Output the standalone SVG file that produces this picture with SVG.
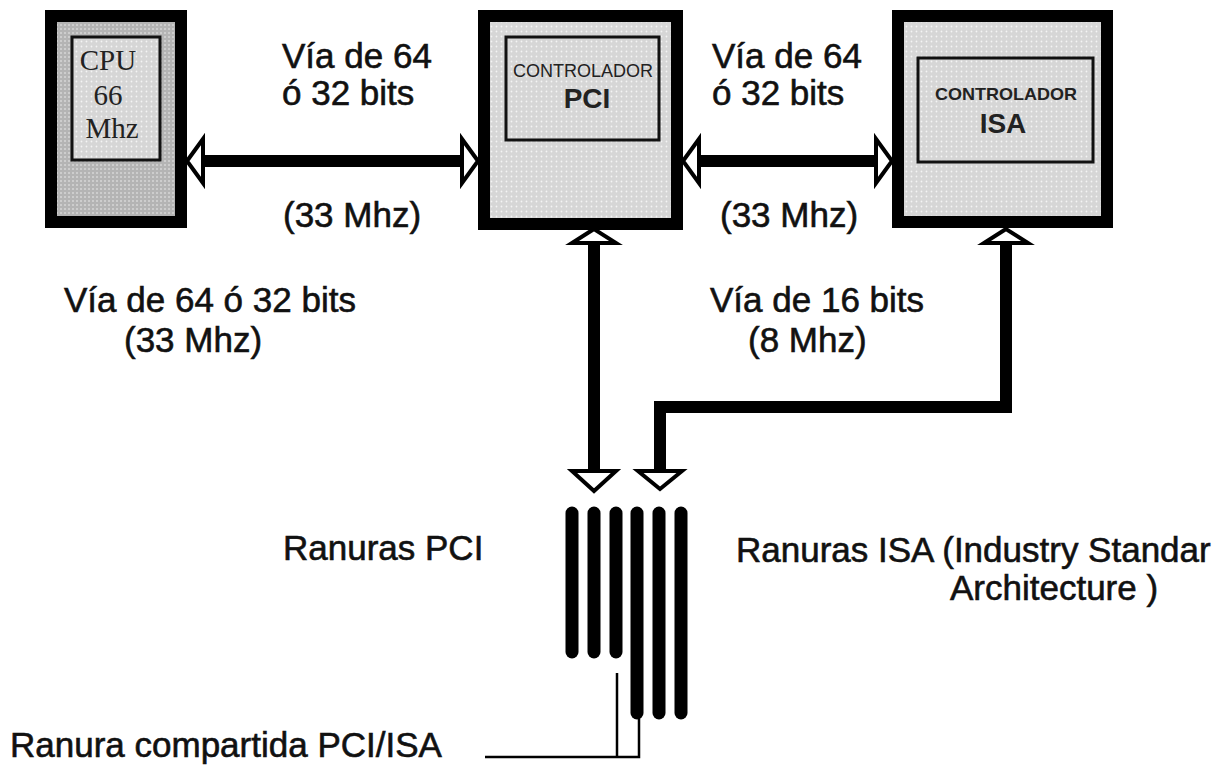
<svg xmlns="http://www.w3.org/2000/svg" width="1228" height="776" viewBox="0 0 1228 776">
<style>
.lbl{font-family:"Liberation Sans",Arial,sans-serif;font-size:35px;fill:#111;stroke:#111;stroke-width:0.6}
.cpu{font-family:"Liberation Serif","Times New Roman",serif;font-size:29px;fill:#222;text-anchor:middle}
.ctl{font-family:"Liberation Sans",Arial,sans-serif;fill:#222;text-anchor:middle}
.outer{stroke:#000;stroke-width:12}
.inner{stroke:#111;stroke-width:3}
.bus{stroke:#000;stroke-width:12;fill:none}
.head{fill:#fff;stroke:#000;stroke-width:4;stroke-linejoin:miter}
.slot{stroke:#000;stroke-width:13;stroke-linecap:round}
.thin{stroke:#000;stroke-width:2.5;fill:none}
</style>
<defs>
<pattern id="dotsDark" width="4" height="4" patternUnits="userSpaceOnUse">
<rect width="4" height="4" fill="#b4b4b4"/>
<circle cx="1" cy="1" r="0.8" fill="#eee"/>
</pattern>
<pattern id="dotsLight" width="5" height="5" patternUnits="userSpaceOnUse">
<rect width="5" height="5" fill="#d6d6d6"/>
<circle cx="1.5" cy="1.5" r="0.9" fill="#f4f4f4"/>
</pattern>
</defs>
<rect width="1228" height="776" fill="#fff"/>

<g id="cpu">
<rect class="outer" x="51" y="16" width="130" height="206" fill="url(#dotsDark)"/>
<rect class="inner" x="72" y="37" width="88" height="123" fill="url(#dotsLight)"/>
<text class="cpu" x="108" y="70">CPU</text>
<text class="cpu" x="108" y="105">66</text>
<text class="cpu" x="112" y="138">Mhz</text>
</g>

<g id="pci">
<rect class="outer" x="484" y="16" width="193" height="208" fill="url(#dotsLight)"/>
<rect class="inner" x="506" y="37" width="153" height="103" fill="url(#dotsLight)"/>
<text class="ctl" x="583" y="77" font-size="18" textLength="140" lengthAdjust="spacingAndGlyphs">CONTROLADOR</text>
<text class="ctl" x="587" y="108" font-size="28" font-weight="bold">PCI</text>
</g>

<g id="isa">
<rect class="outer" x="898" y="16" width="209" height="206" fill="url(#dotsLight)"/>
<rect class="inner" x="918" y="58" width="175" height="104" fill="url(#dotsLight)"/>
<text class="ctl" x="1006" y="100" font-size="17" font-weight="bold" textLength="142" lengthAdjust="spacingAndGlyphs">CONTROLADOR</text>
<text class="ctl" x="1003" y="133" font-size="28" font-weight="bold">ISA</text>
</g>

<g id="slots">
<line class="slot" x1="572" y1="513" x2="572" y2="652"/>
<line class="slot" x1="594" y1="513" x2="594" y2="652"/>
<line class="slot" x1="616" y1="513" x2="616" y2="652"/>
<line class="slot" x1="637" y1="513" x2="637" y2="713"/>
<line class="slot" x1="659" y1="513" x2="659" y2="713"/>
<line class="slot" x1="681" y1="513" x2="681" y2="713"/>
</g>

<g id="connectors">
<line class="bus" x1="200" y1="161" x2="466" y2="161"/>
<polygon class="head" points="187,161 203,139 203,183"/>
<polygon class="head" points="478,161 462,139 462,183"/>

<line class="bus" x1="695" y1="161" x2="880" y2="161"/>
<polygon class="head" points="683,161 699,139 699,183"/>
<polygon class="head" points="892,161 876,139 876,183"/>

<line class="bus" x1="594" y1="240" x2="594" y2="474"/>
<polygon class="head" points="594,229 572,243 616,243"/>
<polygon class="head" points="594,491 572,471 616,471"/>

<polyline class="bus" points="1006,240 1006,407 660,407 660,474"/>
<polygon class="head" points="1006,229 984,243 1028,243"/>
<polygon class="head" points="660,489 638,471 682,471"/>

<polyline class="thin" points="617,673 617,757"/>
<polyline class="thin" points="485,757 639,757 639,718"/>
</g>

<g id="labels">
<text class="lbl" x="282" y="68">Vía de 64</text>
<text class="lbl" x="282" y="105">ó 32 bits</text>
<text class="lbl" x="283" y="227">(33 Mhz)</text>
<text class="lbl" x="712" y="68">Vía de 64</text>
<text class="lbl" x="712" y="105">ó 32 bits</text>
<text class="lbl" x="720" y="227">(33 Mhz)</text>
<text class="lbl" x="64" y="312">Vía de 64 ó 32 bits</text>
<text class="lbl" x="124" y="352">(33 Mhz)</text>
<text class="lbl" x="710" y="312">Vía de 16 bits</text>
<text class="lbl" x="748" y="352">(8 Mhz)</text>
<text class="lbl" x="283" y="560">Ranuras PCI</text>
<text class="lbl" x="736" y="562">Ranuras ISA (Industry Standar</text>
<text class="lbl" x="950" y="600">Architecture )</text>
<text class="lbl" x="10" y="757">Ranura compartida PCI/ISA</text>
</g>
</svg>
